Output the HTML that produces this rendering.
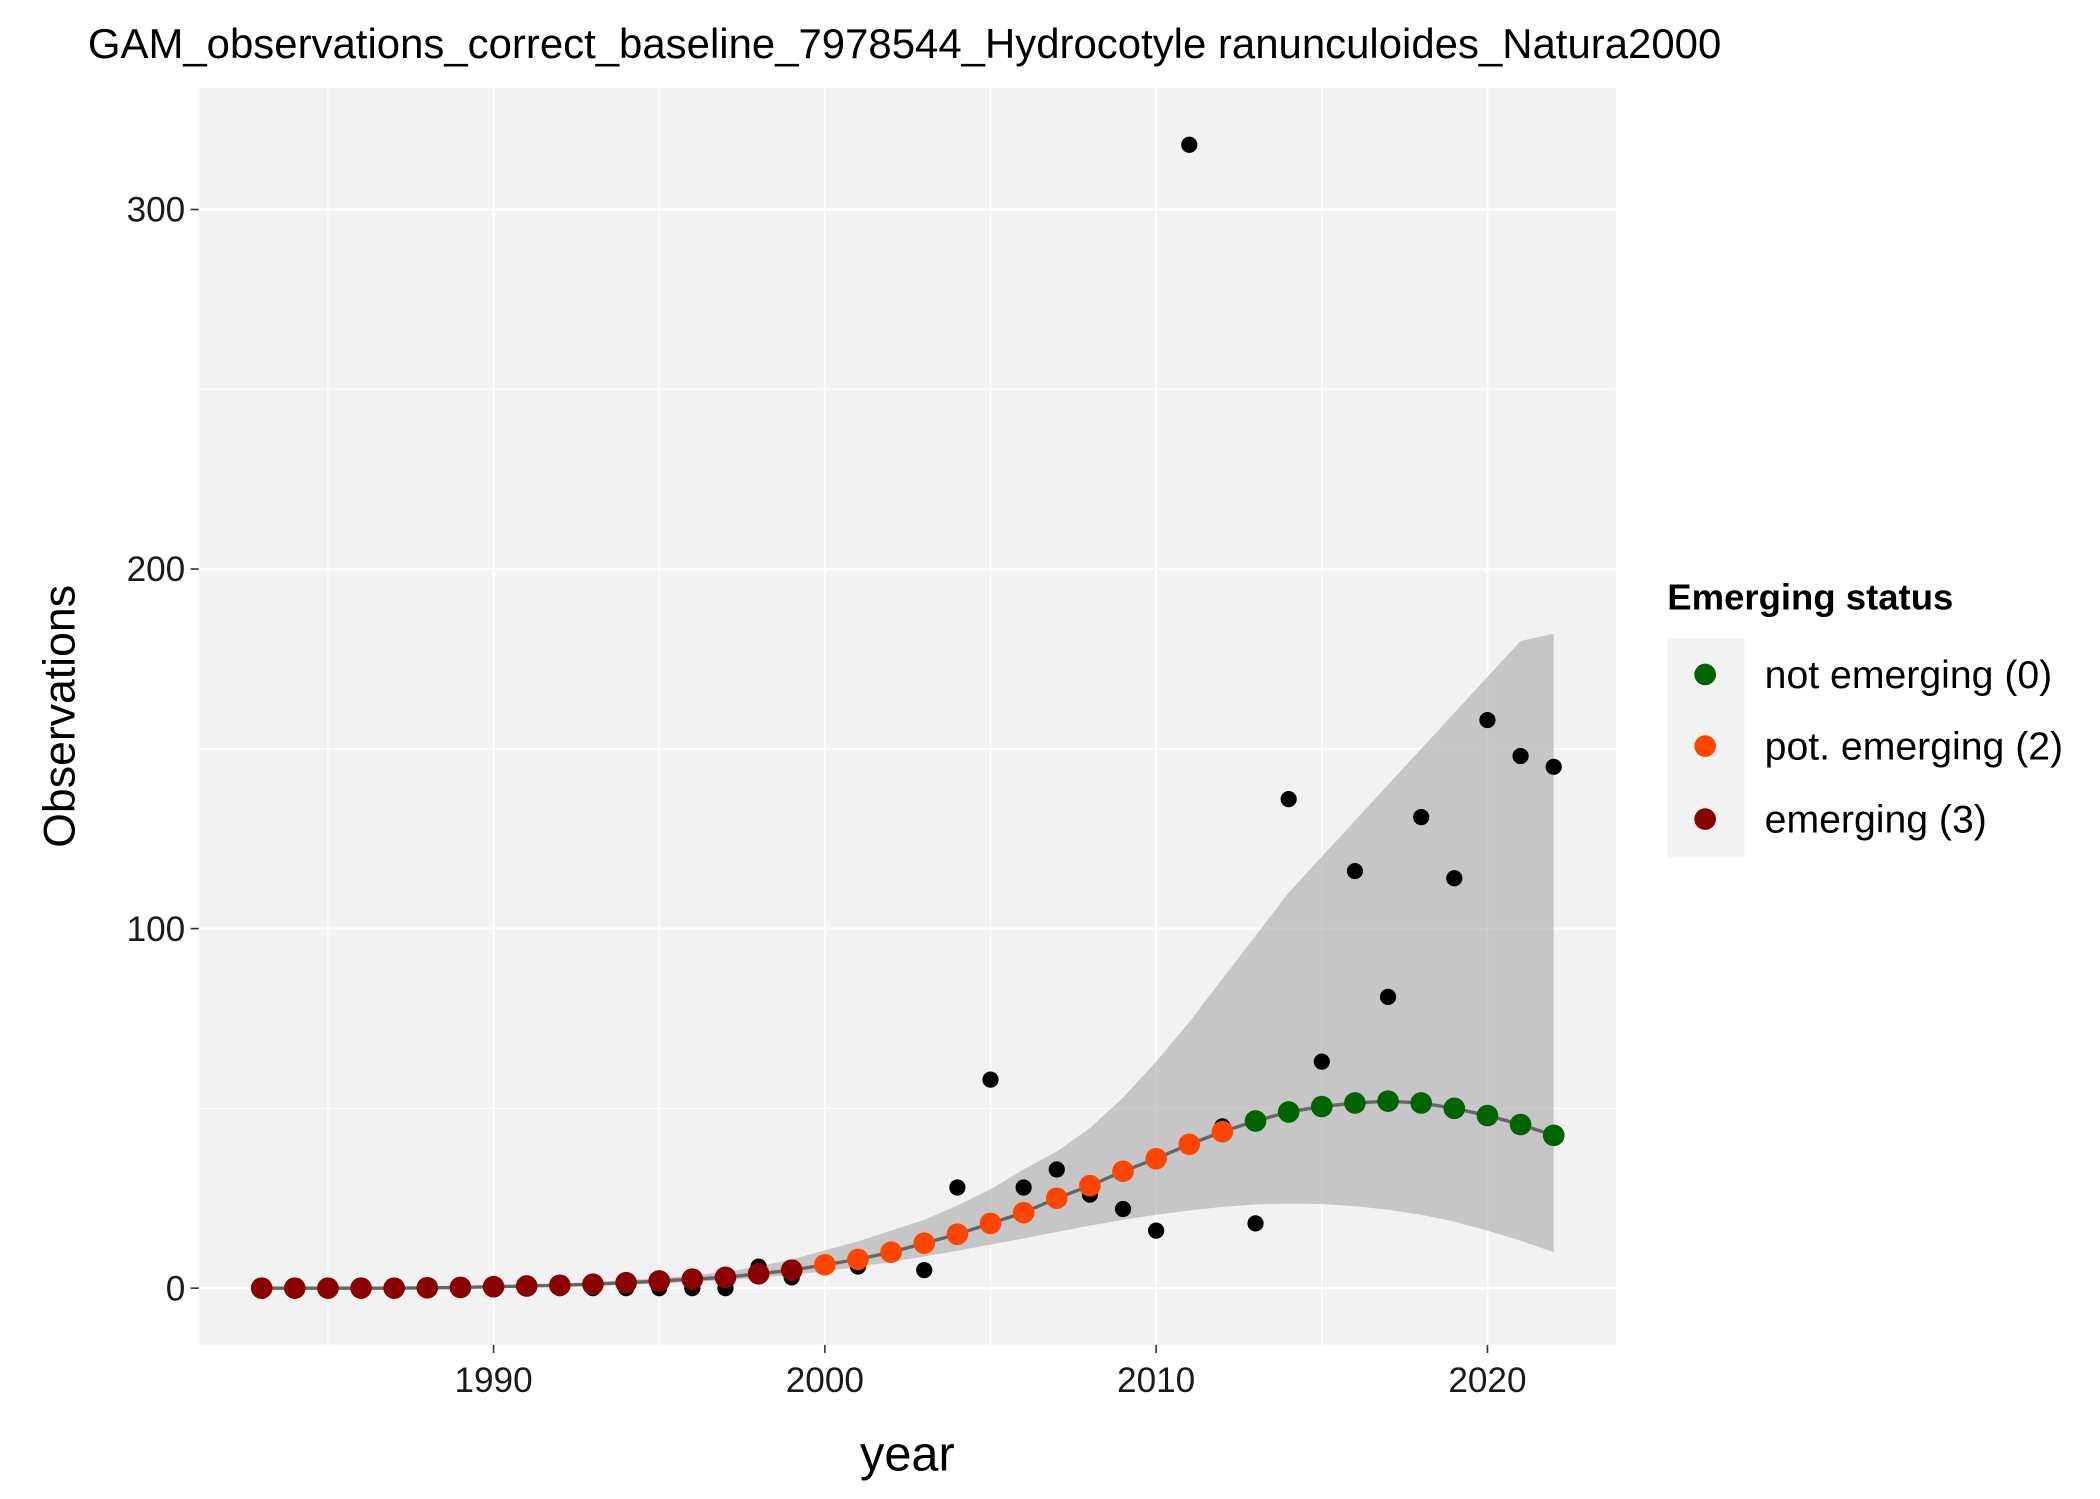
<!DOCTYPE html>
<html><head><meta charset="utf-8"><style>
html,body{margin:0;padding:0;background:#fff;}
svg{display:block;font-family:"Liberation Sans",Arial,sans-serif;}
</style></head><body>
<svg id="chart" width="2100" height="1499" viewBox="0 0 1553 1109" preserveAspectRatio="none" xmlns="http://www.w3.org/2000/svg">
<text x="65" y="43" font-size="31">GAM_observations_correct_baseline_7978544_Hydrocotyle ranunculoides_Natura2000</text>
<rect x="147" y="65" width="1048" height="930" fill="#f2f2f2"/>
<g id="grid"></g>
<g id="band"></g>
<g id="obs"></g>
<g id="fit"></g>
<g id="axes"></g>
<text x="671" y="1088" font-size="36" text-anchor="middle">year</text>
<text transform="translate(55,530) rotate(-90)" font-size="33" text-anchor="middle">Observations</text>
<g>
<text x="1233" y="451" font-size="27" font-weight="bold">Emerging status</text>
<rect x="1233" y="472" width="57" height="162" fill="#f2f2f2"/>
<circle cx="1261" cy="499" r="8" fill="#006400"/>
<text x="1305" y="509" font-size="29">not emerging (0)</text>
<circle cx="1261" cy="552" r="8" fill="#ff4500"/>
<text x="1305" y="562" font-size="29">pot. emerging (2)</text>
<circle cx="1261" cy="606" r="8" fill="#8b0000"/>
<text x="1305" y="616" font-size="29">emerging (3)</text>
</g>
</svg>
<script>
const years=[1983,1984,1985,1986,1987,1988,1989,1990,1991,1992,1993,1994,1995,1996,1997,1998,1999,2000,2001,2002,2003,2004,2005,2006,2007,2008,2009,2010,2011,2012,2013,2014,2015,2016,2017,2018,2019,2020,2021,2022];
const observed=[0,0,0,0,0,0,0,0,0,0,0,0,0,0,0,6,3,6,6,10,5,28,58,28,33,26,22,16,318,45,18,136,63,116,81,131,114,158,148,145];
const fitted=[0,0,0,0,0,0.1,0.2,0.4,0.6,0.8,1.1,1.5,2,2.5,3,4,5,6.5,8,10,12.5,15,18,21,25,28.5,32.5,36,40,43.5,46.5,49,50.5,51.5,52,51.5,50,48,45.5,42.5];
const upper=[0.1,0.1,0.1,0.2,0.3,0.4,0.5,0.7,1,1.3,1.7,2.2,2.8,3.5,4.5,6,8,10.5,13,16,19,23,27.5,33,38,44.5,53,63,74,86,98,110,120,130,140,150,160,170,180,182];
const lower=[0,0,0,0,0,0,0,0.1,0.3,0.5,0.7,1,1.3,1.7,2.2,2.9,3.7,4.7,5.9,7.3,8.8,10.4,12.1,13.8,15.6,17.4,19,20.4,21.6,22.6,23.3,23.5,23.4,22.8,21.8,20.4,18.5,16,13.2,10];
const status=[3,3,3,3,3,3,3,3,3,3,3,3,3,3,3,3,3,2,2,2,2,2,2,2,2,2,2,2,2,2,0,0,0,0,0,0,0,0,0,0];
const xTicks=[1990,2000,2010,2020];
const yTicks=[0,100,200,300];
const NS="http://www.w3.org/2000/svg";
const X=y=>365+(y-1990)*24.5;
const Y=v=>953-v*2.66;
const colors={0:"#006400",2:"#ff4500",3:"#8b0000"};
function mk(tag,attrs,parent){const e=document.createElementNS(NS,tag);for(const k in attrs)e.setAttribute(k,attrs[k]);parent.appendChild(e);return e;}
const grid=document.getElementById('grid'),axes=document.getElementById('axes');
for(let i=0;i<yTicks.length;i++){
 const t=yTicks[i];
 const l=mk('line',{x1:147,x2:1195,y1:Y(t),y2:Y(t),stroke:'#fff','stroke-width':1.6},grid);
 
 if(i<yTicks.length-1){const m=(t+yTicks[i+1])/2;const g=mk('line',{x1:147,x2:1195,y1:Y(m),y2:Y(m),stroke:'#fff','stroke-width':0.8},grid);}
 const tk=mk('line',{x1:141,x2:147,y1:Y(t),y2:Y(t),stroke:'#333','stroke-width':1.2},axes);
 const tx=mk('text',{x:137,y:Y(t)+9,'font-size':26,'text-anchor':'end',fill:'#1a1a1a'},axes);tx.textContent=t;
 
}
[1985,1995,2005,2015].forEach(m=>{const g=mk('line',{x1:X(m),x2:X(m),y1:65,y2:995,stroke:'#fff','stroke-width':0.8},grid);});
xTicks.forEach(t=>{
 const l=mk('line',{x1:X(t),x2:X(t),y1:65,y2:995,stroke:'#fff','stroke-width':1.6},grid);
 
 const tk=mk('line',{x1:X(t),x2:X(t),y1:995,y2:1001,stroke:'#333','stroke-width':1.2},axes);
 const tx=mk('text',{x:X(t),y:1030,'font-size':26,'text-anchor':'middle',fill:'#1a1a1a'},axes);tx.textContent=t;
 
});
let d='M'+years.map((y,i)=>X(y)+','+Y(upper[i])).join('L');
for(let i=years.length-1;i>=0;i--)d+='L'+X(years[i])+','+Y(lower[i]);
const band=mk('path',{d:d+'Z',fill:'#999','fill-opacity':0.5},document.getElementById('band'));

const fl=mk('path',{d:'M'+years.map((y,i)=>X(y)+','+Y(fitted[i])).join('L'),fill:'none',stroke:'#666','stroke-width':2.5},document.getElementById('band'));

const obs=document.getElementById('obs'),fit=document.getElementById('fit');
years.forEach((y,i)=>{
 const c=mk('circle',{cx:X(y),cy:Y(observed[i]),r:6,fill:'#000'},obs);
 
 const f=mk('circle',{cx:X(y),cy:Y(fitted[i]),r:8,fill:colors[status[i]]},fit);
 
});
</script>
</body></html>
